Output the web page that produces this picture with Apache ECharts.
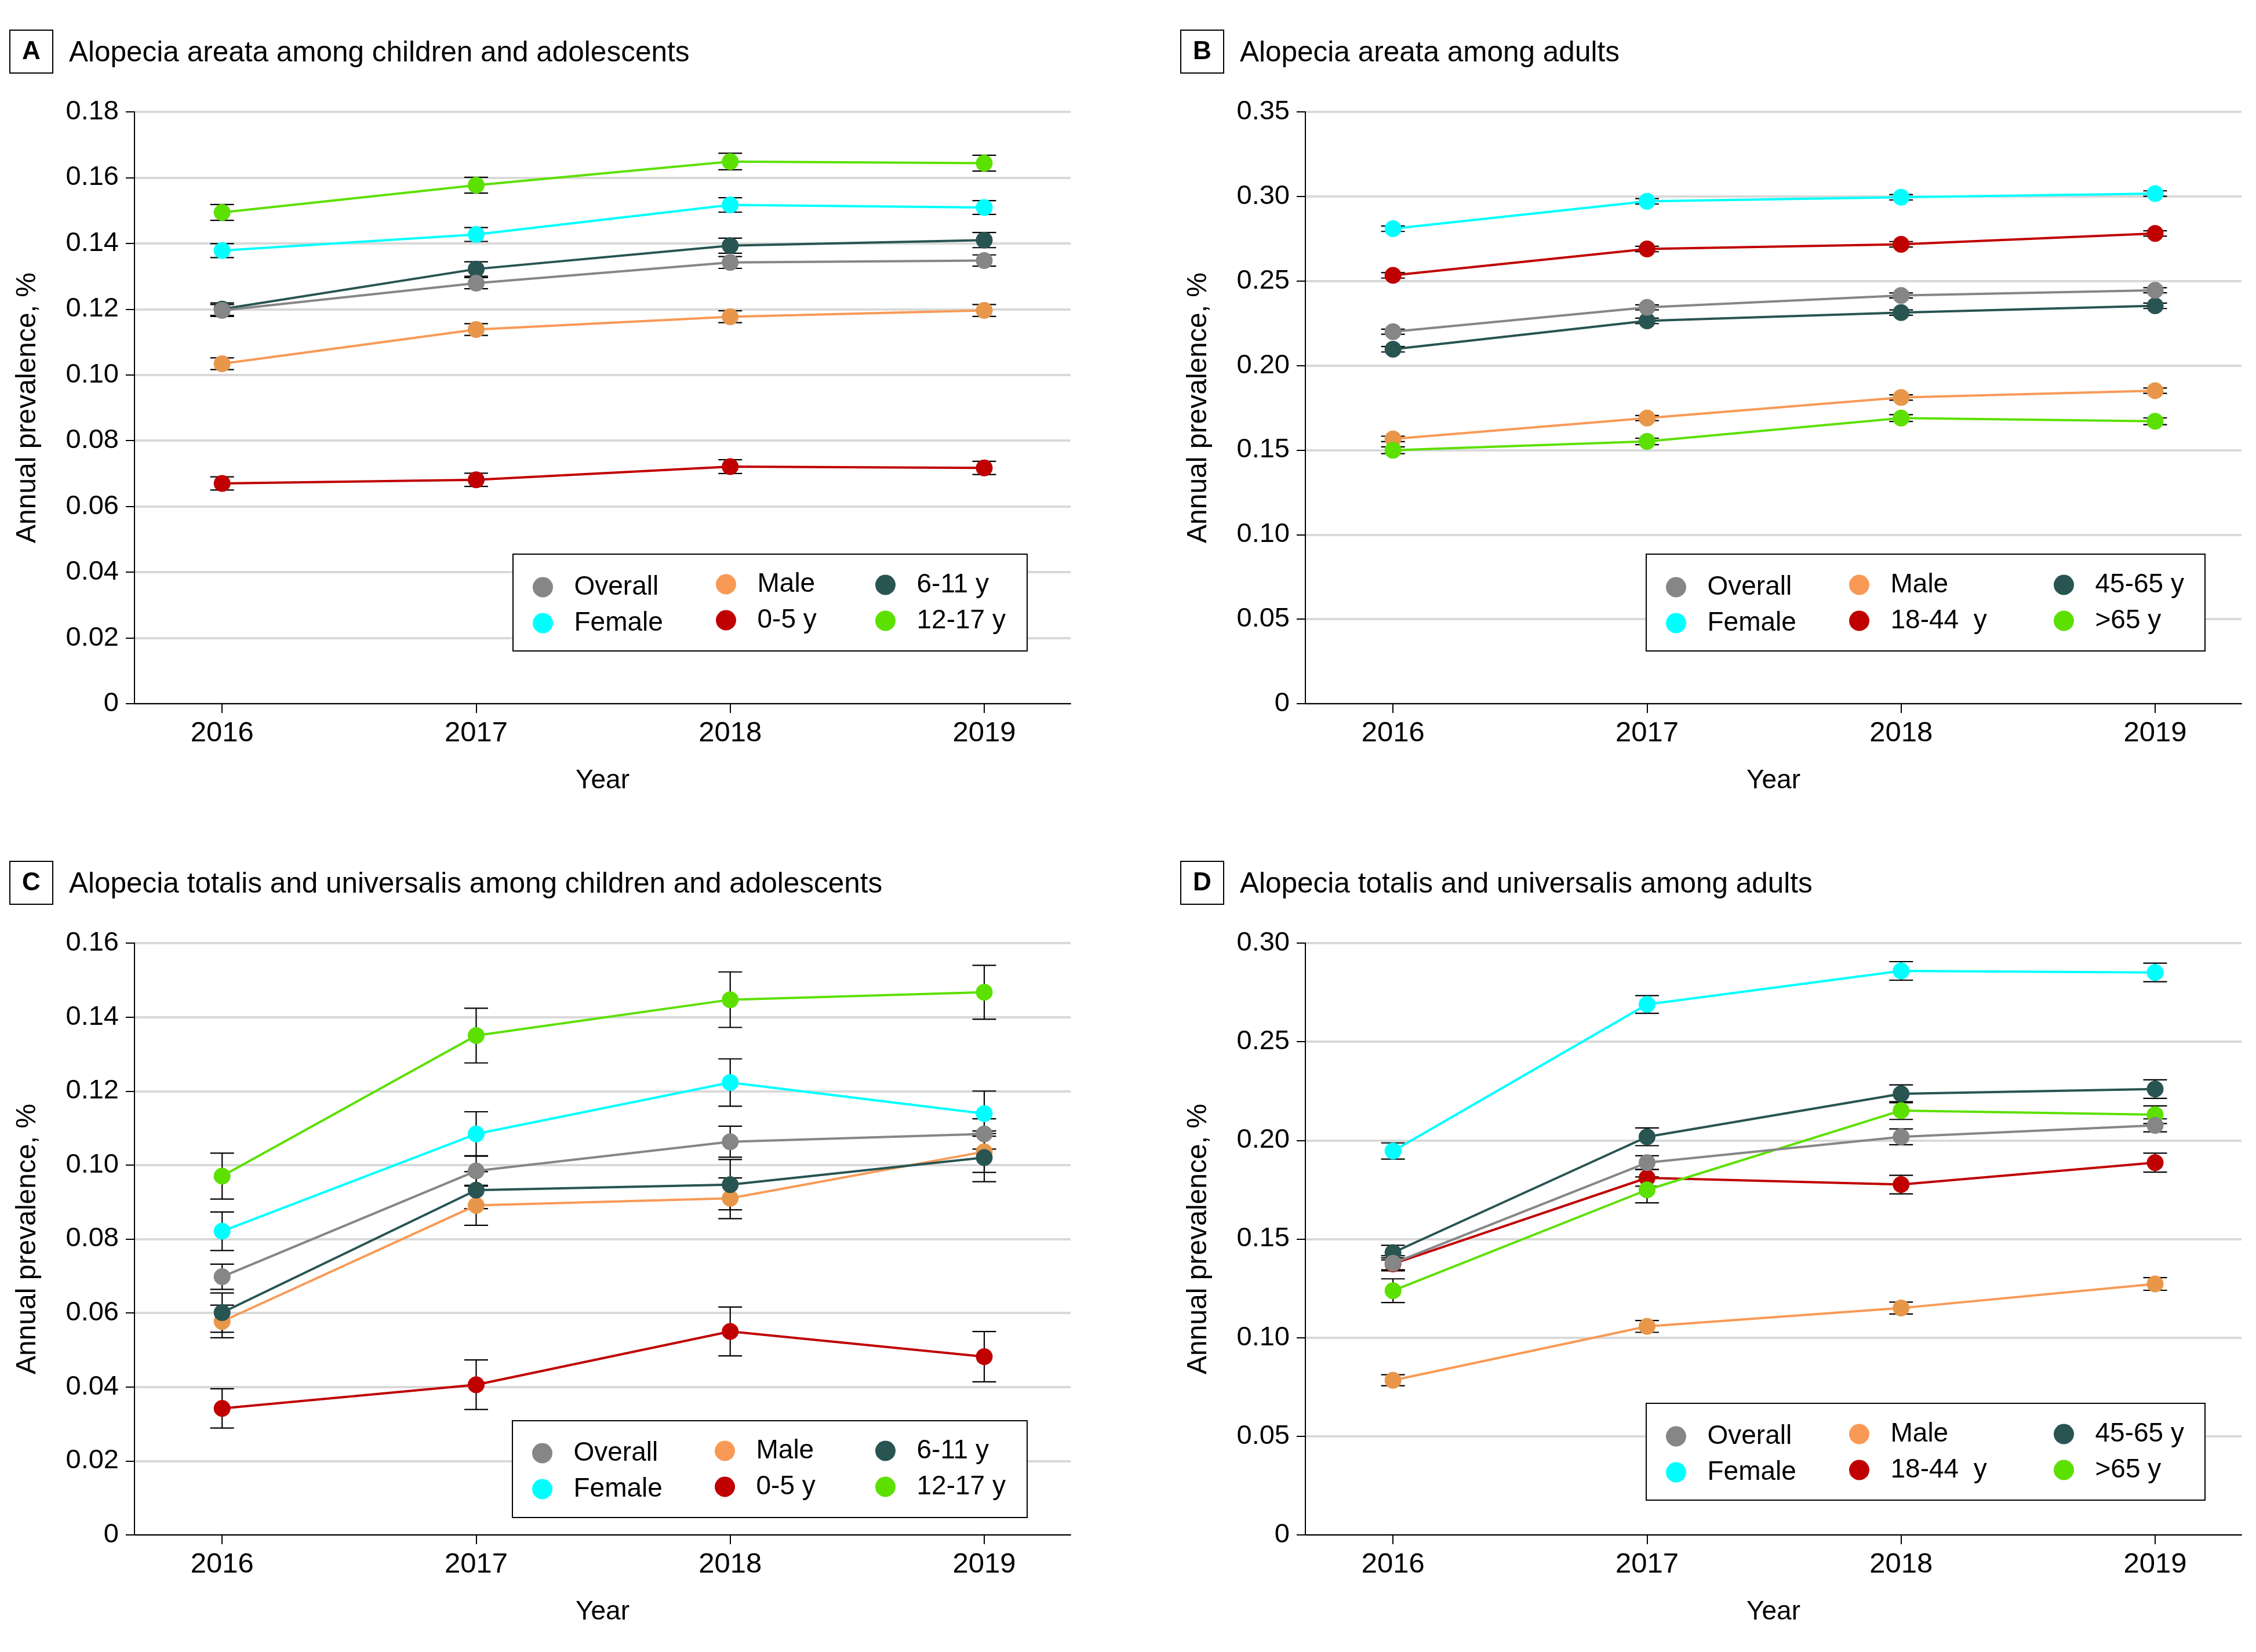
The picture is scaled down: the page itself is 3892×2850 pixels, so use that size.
<!DOCTYPE html>
<html>
<head>
<meta charset="utf-8">
<title>Alopecia prevalence 2016-2019</title>
<script src="https://cdn.jsdelivr.net/npm/echarts@6/dist/echarts.min.js"></script>
<style>
  html, body { margin: 0; padding: 0; background: #fff; }
  #chart { width: 3892px; height: 2850px; }
</style>
</head>
<body>
<div id="chart"></div>
<script>
// ---- data ----
const years = [2016, 2017, 2018, 2019];
const kidNames = ['Overall', 'Female', 'Male', '0-5 y', '6-11 y', '12-17 y'];
const adultNames = ['Overall', 'Female', 'Male', '18-44  y', '45-65 y', '>65 y'];

// A: alopecia areata, children & adolescents (same order as kidNames)
const panelAValues = [
  [0.1196, 0.1279, 0.1342, 0.1348],
  [0.1378, 0.1427, 0.1517, 0.1509],
  [0.1034, 0.1138, 0.1177, 0.1196],
  [0.0670, 0.0681, 0.0721, 0.0717],
  [0.1200, 0.1322, 0.1393, 0.1410],
  [0.1494, 0.1577, 0.1649, 0.1644]
];
const panelACI = [
  [0.0018, 0.0017, 0.0018, 0.0017],
  [0.0021, 0.0021, 0.0022, 0.0021],
  [0.0018, 0.0018, 0.0018, 0.0018],
  [0.0020, 0.0020, 0.0021, 0.0020],
  [0.0019, 0.0022, 0.0023, 0.0023],
  [0.0024, 0.0024, 0.0025, 0.0024]
];

// B: alopecia areata, adults (same order as adultNames)
const panelBValues = [
  [0.2200, 0.2344, 0.2414, 0.2445],
  [0.2809, 0.2971, 0.2995, 0.3017],
  [0.1566, 0.1689, 0.1811, 0.1851],
  [0.2533, 0.2689, 0.2717, 0.2781],
  [0.2096, 0.2264, 0.2313, 0.2353],
  [0.1499, 0.1551, 0.1689, 0.1670]
];
const panelBCI = [
  [0.0015, 0.0015, 0.0015, 0.0015],
  [0.0016, 0.0016, 0.0016, 0.0016],
  [0.0016, 0.0015, 0.0016, 0.0016],
  [0.0016, 0.0016, 0.0016, 0.0016],
  [0.0016, 0.0016, 0.0016, 0.0016],
  [0.0020, 0.0019, 0.0020, 0.0020]
];

// C: totalis / universalis, children & adolescents
const panelCValues = [
  [0.0698, 0.0984, 0.1063, 0.1084],
  [0.0821, 0.1084, 0.1223, 0.1139],
  [0.0577, 0.0891, 0.0910, 0.1036],
  [0.0342, 0.0406, 0.0550, 0.0482],
  [0.0601, 0.0932, 0.0947, 0.1020],
  [0.0970, 0.1350, 0.1447, 0.1467]
];
const panelCCI = [
  [0.0034, 0.0041, 0.0042, 0.0041],
  [0.0052, 0.0060, 0.0064, 0.0061],
  [0.0044, 0.0054, 0.0055, 0.0056],
  [0.0053, 0.0067, 0.0066, 0.0068],
  [0.0053, 0.0050, 0.0068, 0.0065],
  [0.0062, 0.0074, 0.0075, 0.0073]
];

// D: totalis / universalis, adults
const panelDValues = [
  [0.1377, 0.1887, 0.2018, 0.2076],
  [0.1946, 0.2689, 0.2859, 0.2851],
  [0.0784, 0.1057, 0.1150, 0.1272],
  [0.1374, 0.1810, 0.1776, 0.1887],
  [0.1431, 0.2018, 0.2236, 0.2260],
  [0.1238, 0.1749, 0.2151, 0.2130]
];
const panelDCI = [
  [0.0038, 0.0035, 0.0040, 0.0033],
  [0.0041, 0.0045, 0.0047, 0.0047],
  [0.0028, 0.0030, 0.0030, 0.0032],
  [0.0030, 0.0042, 0.0047, 0.0048],
  [0.0037, 0.0045, 0.0045, 0.0047],
  [0.0060, 0.0066, 0.0045, 0.0045]
];

const yTicksA = { max: 0.18, step: 0.02 };
const yTicksB = { max: 0.35, step: 0.05 };
const yTicksC = { max: 0.16, step: 0.02 };
const yTicksD = { max: 0.30, step: 0.05 };

// ---- styling ----
const FONT = '"Liberation Sans", Arial, sans-serif';
const markerColors = ['#868686', '#00FFFF', '#E8974A', '#C00000', '#285452', '#5CE000'];
const lineColors   = ['#868686', '#00FFFF', '#F89A56', '#C00000', '#285452', '#5CE000'];
const drawOrder = [1, 2, 3, 4, 5, 0]; // Overall ends up on top

const panels = [
  { letter: 'A', title: 'Alopecia areata among children and adolescents',
    names: kidNames, values: panelAValues, ci: panelACI, ticks: yTicksA,
    left: 232, top: 193, titleX: 17, titleY: 52,
    box: [885, 956, 887, 167], legLeft: [919, 1235, 1510], legTop: [990, 985, 986] },
  { letter: 'B', title: 'Alopecia areata among adults',
    names: adultNames, values: panelBValues, ci: panelBCI, ticks: yTicksB,
    left: 2252, top: 193, titleX: 2037, titleY: 52,
    box: [2840, 956, 964, 167], legLeft: [2874, 3190, 3543], legTop: [990, 986, 986] },
  { letter: 'C', title: 'Alopecia totalis and universalis among children and adolescents',
    names: kidNames, values: panelCValues, ci: panelCCI, ticks: yTicksC,
    left: 232, top: 1627, titleX: 17, titleY: 1486,
    box: [884, 2451, 888, 167], legLeft: [918, 1233, 1510], legTop: [2484, 2480, 2480] },
  { letter: 'D', title: 'Alopecia totalis and universalis among adults',
    names: adultNames, values: panelDValues, ci: panelDCI, ticks: yTicksD,
    left: 2252, top: 1627, titleX: 2037, titleY: 1486,
    box: [2840, 2421, 964, 167], legLeft: [2874, 3190, 3543], legTop: [2455, 2451, 2451] }
];

const GRID_W = 1615, GRID_H = 1021;

function renderErrorBar(params, api) {
  const x = api.value(0);
  const top = api.coord([x, api.value(2)]);
  const bot = api.coord([x, api.value(1)]);
  const hw = 20.5;
  const st = { stroke: '#000', lineWidth: 2.2 };
  return {
    type: 'group',
    children: [
      { type: 'line', shape: { x1: top[0], y1: top[1], x2: bot[0], y2: bot[1] }, style: st },
      { type: 'line', shape: { x1: top[0] - hw, y1: top[1], x2: top[0] + hw, y2: top[1] }, style: st },
      { type: 'line', shape: { x1: bot[0] - hw, y1: bot[1], x2: bot[0] + hw, y2: bot[1] }, style: st }
    ]
  };
}

const grid = [], xAxis = [], yAxis = [], series = [], legend = [], graphic = [];

panels.forEach(function (p, k) {
  grid.push({ left: p.left, top: p.top, width: GRID_W, height: GRID_H, containLabel: false });

  xAxis.push({
    gridIndex: k, type: 'value', min: 2015.655, max: 2019.34,
    name: 'Year', nameLocation: 'middle', nameGap: 110,
    nameTextStyle: { fontSize: 46, color: '#000', fontFamily: FONT },
    axisLine: { show: true, onZero: false, lineStyle: { color: '#000', width: 2 } },
    axisTick: { show: true, length: 16, customValues: years, lineStyle: { color: '#000', width: 2 } },
    axisLabel: { customValues: years, fontSize: 49, color: '#000', fontFamily: FONT, margin: 27,
                 formatter: function (v) { return String(Math.round(v)); } },
    splitLine: { show: false }
  });

  yAxis.push({
    gridIndex: k, type: 'value', min: 0, max: p.ticks.max, interval: p.ticks.step,
    name: 'Annual prevalence, %', nameLocation: 'middle', nameGap: 160,
    nameTextStyle: { fontSize: 48, color: '#000', fontFamily: FONT },
    axisLine: { show: true, lineStyle: { color: '#000', width: 2 } },
    axisTick: { show: true, length: 15, lineStyle: { color: '#000', width: 2 } },
    axisLabel: { fontSize: 47, color: '#000', fontFamily: FONT, margin: 27,
                 formatter: function (v) { return v === 0 ? '0' : v.toFixed(2); } },
    splitLine: { show: true, lineStyle: { color: '#d9d9d9', width: 4 } }
  });

  // error bars first so markers sit over them
  drawOrder.forEach(function (i) {
    series.push({
      type: 'custom', xAxisIndex: k, yAxisIndex: k, z: 1, silent: true,
      renderItem: renderErrorBar,
      encode: { x: 0, y: [1, 2] },
      data: years.map(function (yr, j) {
        return [yr, p.values[i][j] - p.ci[i][j], p.values[i][j] + p.ci[i][j]];
      })
    });
  });

  drawOrder.forEach(function (i) {
    series.push({
      type: 'line', name: p.names[i], xAxisIndex: k, yAxisIndex: k, z: 2,
      symbol: 'circle', symbolSize: 29,
      lineStyle: { color: lineColors[i], width: 4 },
      itemStyle: { color: markerColors[i], borderWidth: 0 },
      data: years.map(function (yr, j) { return [yr, p.values[i][j]]; })
    });
  });

  // legend frame
  graphic.push({
    type: 'rect', z: 3,
    shape: { x: p.box[0], y: p.box[1], width: p.box[2], height: p.box[3] },
    style: { fill: '#fff', stroke: '#000', lineWidth: 2 }
  });

  // three legend columns, two entries each
  [[0, 1], [2, 3], [4, 5]].forEach(function (col, c) {
    legend.push({
      orient: 'vertical', left: p.legLeft[c], top: p.legTop[c], padding: 0, z: 10,
      icon: 'circle', itemWidth: 98, itemHeight: 35, itemGap: 16, selectedMode: false,
      itemStyle: { borderWidth: 0 },
      textStyle: { fontSize: 46, color: '#000', fontFamily: FONT },
      data: col.map(function (i) { return { name: p.names[i], itemStyle: { color: lineColors[i] } }; })
    });
  });

  // panel letter box + title
  graphic.push({
    type: 'rect', z: 3,
    shape: { x: p.titleX, y: p.titleY, width: 74, height: 74 },
    style: { fill: '#fff', stroke: '#000', lineWidth: 2 }
  });
  graphic.push({
    type: 'text', z: 4, x: p.titleX + 37, y: p.titleY + 38,
    style: { text: p.letter, fontSize: 44, fontWeight: 'bold', fontFamily: FONT,
             fill: '#000', align: 'center', verticalAlign: 'middle' }
  });
  graphic.push({
    type: 'text', z: 4, x: p.titleX + 102, y: p.titleY + 40,
    style: { text: p.title, fontSize: 49.5, fontFamily: FONT,
             fill: '#000', align: 'left', verticalAlign: 'middle' }
  });
});

const chart = echarts.init(document.getElementById('chart'));
chart.setOption({
  backgroundColor: '#fff',
  animation: false,
  grid: grid,
  xAxis: xAxis,
  yAxis: yAxis,
  legend: legend,
  graphic: graphic,
  series: series
});
</script>
</body>
</html>
